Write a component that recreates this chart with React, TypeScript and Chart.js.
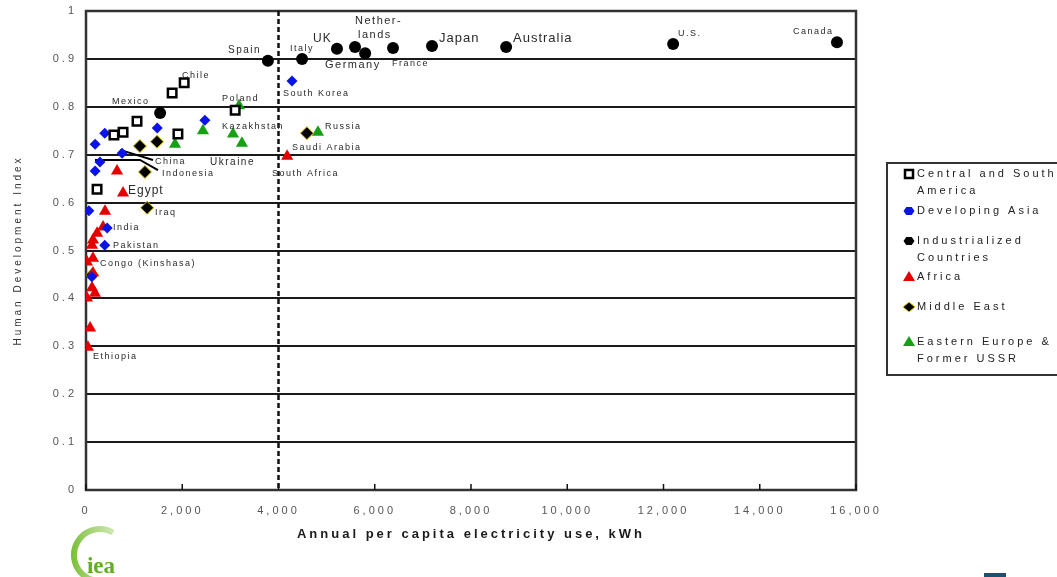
import React, { useEffect, useRef } from 'react';
import { Chart, registerables } from 'chart.js';

Chart.register(...registerables);

// ---------- axes ----------
const xMin = 0;
const xMax = 16000;
const xStep = 2000;
const yMin = 0;
const yMax = 1;
const yStep = 0.1;
const thresholdKWh = 4000;
const xTitle = 'Annual per capita electricity use, kWh';
const yTitle = 'Human Development Index';

// ---------- series: [kWh per capita, HDI] ----------
const centralSouthAmerica: [number, number][] = [
  [1790, 0.829], [2040, 0.85], [1060, 0.77], [770, 0.747], [580, 0.741],
  [1910, 0.743], [3100, 0.793], [230, 0.628],
];
const developingAsia: [number, number][] = [
  [4280, 0.854], [2470, 0.772], [1480, 0.756], [390, 0.745], [190, 0.722],
  [750, 0.703], [290, 0.685], [190, 0.666], [60, 0.583], [440, 0.547],
  [390, 0.511], [120, 0.445],
];
const industrialized: [number, number][] = [
  [3780, 0.896], [4490, 0.9], [5215, 0.921], [5590, 0.925], [5800, 0.912],
  [6380, 0.923], [7190, 0.927], [8730, 0.925], [12200, 0.931], [15605, 0.935],
  [1540, 0.787],
];
const africa: [number, number][] = [
  [4180, 0.697], [645, 0.666], [770, 0.62], [395, 0.582], [355, 0.549],
  [230, 0.536], [145, 0.522], [125, 0.511], [145, 0.484], [20, 0.476],
  [145, 0.453], [125, 0.422], [185, 0.411], [20, 0.401], [85, 0.338],
  [40, 0.298],
];
const middleEast: [number, number][] = [
  [1120, 0.718], [1475, 0.727], [1225, 0.664], [1270, 0.589], [4590, 0.745],
  [125, 0.449],
];
const easternEurope: [number, number][] = [
  [3180, 0.802], [2430, 0.75], [3055, 0.743], [3240, 0.724], [1850, 0.722],
  [4820, 0.747],
];

const seriesNames = [
  'Central and South America',
  'Developing Asia',
  'Industrialized Countries',
  'Africa',
  'Middle East',
  'Eastern Europe & Former USSR',
];
const legendLines = [
  ['Central and South', 'America'],
  ['Developing Asia'],
  ['Industrialized', 'Countries'],
  ['Africa'],
  ['Middle East'],
  ['Eastern Europe &', 'Former USSR'],
];

// ---------- country labels (anchor = left/middle of text, in data units) ----------
const countryNames = [
  'Spain', 'Italy', 'UK', 'Nether-', 'lands', 'Germany', 'France', 'Japan',
  'Australia', 'U.S.', 'Canada', 'Chile', 'Mexico', 'Poland', 'South Korea',
  'Kazakhstan', 'Russia', 'Saudi Arabia', 'China', 'Ukraine', 'Indonesia',
  'South Africa', 'Egypt', 'Iraq', 'India', 'Pakistan', 'Congo (Kinshasa)', 'Ethiopia',
];
const countryLabelX = [
  2950, 4240, 4717, 5590, 5652, 4966, 6359, 7335,
  8873, 12301, 14691, 1995, 540, 2826, 4094,
  2826, 4966, 4281, 1434, 2577, 1579,
  3865, 873, 1434, 561, 561, 291, 145,
];
const countryLabelY = [
  0.919, 0.921, 0.942, 0.979, 0.95, 0.887, 0.891, 0.942,
  0.942, 0.954, 0.958, 0.866, 0.81, 0.818, 0.827,
  0.758, 0.758, 0.714, 0.685, 0.685, 0.66,
  0.66, 0.624, 0.58, 0.547, 0.511, 0.472, 0.278,
];
const chinaLeader: [number, number][] = [[707, 0.71], [1392, 0.689]];
const indonesiaLeader: [number, number][] = [[187, 0.689], [1122, 0.689], [1496, 0.668]];

// label font sizes (style)
const labelSize: Record<string, number> = {
  UK: 12, Japan: 13, Australia: 13, Egypt: 12, 'Nether-': 11, lands: 11,
  Germany: 11, Spain: 10, Ukraine: 10,
};

const FONT = "'Liberation Sans', Arial, sans-serif";

function drawMarker(ctx: CanvasRenderingContext2D, kind: number, x: number, y: number) {
  ctx.save();
  ctx.letterSpacing = '0px';
  if (kind === 0) {
    ctx.fillStyle = '#fff';
    ctx.strokeStyle = '#000';
    ctx.lineWidth = 2.5;
    ctx.fillRect(x - 4, y - 4, 8, 8);
    ctx.strokeRect(x - 4, y - 4, 8, 8);
  } else if (kind === 1 || kind === 2) {
    ctx.fillStyle = kind === 1 ? '#0a14e6' : '#000';
    ctx.beginPath();
    for (let i = 0; i < 6; i++) {
      const a = (Math.PI / 3) * i;
      const px = x + 5.5 * Math.cos(a);
      const py = y + 4.5 * Math.sin(a);
      if (i === 0) ctx.moveTo(px, py);
      else ctx.lineTo(px, py);
    }
    ctx.closePath();
    ctx.fill();
  } else if (kind === 3 || kind === 5) {
    ctx.fillStyle = kind === 3 ? '#e50000' : '#16a016';
    ctx.beginPath();
    ctx.moveTo(x, y - 6);
    ctx.lineTo(x + 6, y + 4);
    ctx.lineTo(x - 6, y + 4);
    ctx.closePath();
    ctx.fill();
  } else if (kind === 4) {
    ctx.fillStyle = '#000';
    ctx.strokeStyle = '#e0c800';
    ctx.lineWidth = 1;
    ctx.beginPath();
    ctx.moveTo(x, y - 5);
    ctx.lineTo(x + 6, y);
    ctx.lineTo(x, y + 5);
    ctx.lineTo(x - 6, y);
    ctx.closePath();
    ctx.fill();
    ctx.stroke();
  }
  ctx.restore();
}

const overlayPlugin = {
  id: 'overlay',
  beforeDraw(chart: any) {
    chart.ctx.letterSpacing = '3px';
  },
  beforeDatasetsDraw(chart: any) {
    const { ctx, chartArea, scales } = chart;
    const x = scales.x;
    const y = scales.y;
    ctx.save();
    ctx.letterSpacing = '0px';
    // frame
    ctx.strokeStyle = '#333';
    ctx.lineWidth = 2.5;
    ctx.strokeRect(chartArea.left, chartArea.top, chartArea.right - chartArea.left, chartArea.bottom - chartArea.top);
    // inner tick marks on x axis
    ctx.strokeStyle = '#111';
    ctx.lineWidth = 1.5;
    x.ticks.forEach((t: any) => {
      const p = x.getPixelForValue(t.value);
      ctx.beginPath();
      ctx.moveTo(p, chartArea.bottom);
      ctx.lineTo(p, chartArea.bottom - 6);
      ctx.stroke();
    });
    // dashed threshold line
    const px = x.getPixelForValue(thresholdKWh);
    ctx.strokeStyle = '#111';
    ctx.lineWidth = 2.5;
    ctx.setLineDash([5, 3]);
    ctx.beginPath();
    ctx.moveTo(px, chartArea.top);
    ctx.lineTo(px, chartArea.bottom);
    ctx.stroke();
    ctx.setLineDash([]);
    // leader lines
    ctx.strokeStyle = '#000';
    ctx.lineWidth = 2;
    [chinaLeader, indonesiaLeader].forEach((pts) => {
      ctx.beginPath();
      pts.forEach(([vx, vy], i) => {
        const a = x.getPixelForValue(vx);
        const b = y.getPixelForValue(vy);
        if (i === 0) ctx.moveTo(a, b);
        else ctx.lineTo(a, b);
      });
      ctx.stroke();
    });
    ctx.restore();
  },
  afterDatasetsDraw(chart: any) {
    const { ctx, scales } = chart;
    const x = scales.x;
    const y = scales.y;
    ctx.save();
    ctx.fillStyle = '#2a2a2a';
    ctx.textAlign = 'left';
    ctx.textBaseline = 'middle';
    countryNames.forEach((name, i) => {
      const size = labelSize[name] || 9;
      ctx.font = `${size}px ${FONT}`;
      ctx.letterSpacing = size >= 12 ? '1px' : '1.5px';
      ctx.fillText(name, x.getPixelForValue(countryLabelX[i]), y.getPixelForValue(countryLabelY[i]));
    });
    ctx.restore();
  },
  afterDraw(chart: any) {
    const { ctx } = chart;
    ctx.save();
    // legend box
    ctx.letterSpacing = '0px';
    ctx.strokeStyle = '#333';
    ctx.lineWidth = 2;
    ctx.strokeRect(887, 163, 200, 212);
    const rows = [174, 211, 241, 277, 307, 342];
    ctx.font = `11px ${FONT}`;
    ctx.fillStyle = '#222';
    ctx.textAlign = 'left';
    ctx.textBaseline = 'middle';
    legendLines.forEach((lines, i) => {
      drawMarker(ctx, i, 909, rows[i]);
      ctx.letterSpacing = '3px';
      lines.forEach((line, j) => {
        ctx.fillText(line, 917, rows[i] + j * 17);
      });
    });
    // IEA logo
    ctx.letterSpacing = '0px';
    const grad = ctx.createLinearGradient(72, 0, 130, 0);
    grad.addColorStop(0, '#7cbf3a');
    grad.addColorStop(1, 'rgba(190,225,150,0.45)');
    ctx.strokeStyle = grad;
    ctx.lineWidth = 6;
    ctx.beginPath();
    ctx.arc(100, 555, 26, (-60 * Math.PI) / 180, (85 * Math.PI) / 180, true);
    ctx.stroke();
    ctx.fillStyle = '#5fae1e';
    ctx.font = `bold 23px 'Liberation Serif', serif`;
    ctx.textAlign = 'center';
    ctx.textBaseline = 'alphabetic';
    ctx.fillText('iea', 101, 573);
    // small mark bottom right
    ctx.fillStyle = '#1f4e6e';
    ctx.fillRect(984, 573, 22, 4);
    ctx.restore();
    ctx.letterSpacing = '0px';
  },
};

export default function App() {
  const canvasRef = useRef<HTMLCanvasElement | null>(null);

  useEffect(() => {
    const canvas = canvasRef.current;
    if (!canvas) return;
    Chart.defaults.font.family = FONT;
    const toPts = (arr: [number, number][]) => arr.map(([a, b]) => ({ x: a, y: b }));
    const chart = new Chart(canvas, {
      type: 'scatter',
      data: {
        datasets: [
          {
            label: seriesNames[0],
            data: toPts(centralSouthAmerica),
            pointStyle: 'rect',
            pointRadius: 6,
            backgroundColor: '#ffffff',
            borderColor: '#000000',
            borderWidth: 2.5,
          },
          {
            label: seriesNames[1],
            data: toPts(developingAsia),
            pointStyle: 'rectRot',
            pointRadius: 5.5,
            backgroundColor: '#0a14e6',
            borderColor: '#0a14e6',
            borderWidth: 0,
          },
          {
            label: seriesNames[2],
            data: toPts(industrialized),
            pointStyle: 'circle',
            pointRadius: 6,
            backgroundColor: '#000000',
            borderColor: '#000000',
            borderWidth: 0,
          },
          {
            label: seriesNames[3],
            data: toPts(africa),
            pointStyle: 'triangle',
            pointRadius: 7,
            backgroundColor: '#e50000',
            borderColor: '#e50000',
            borderWidth: 0,
          },
          {
            label: seriesNames[4],
            data: toPts(middleEast),
            pointStyle: 'rectRot',
            pointRadius: 6.5,
            backgroundColor: '#000000',
            borderColor: '#d9c200',
            borderWidth: 1,
          },
          {
            label: seriesNames[5],
            data: toPts(easternEurope),
            pointStyle: 'triangle',
            pointRadius: 7,
            backgroundColor: '#16a016',
            borderColor: '#16a016',
            borderWidth: 0,
          },
        ],
      },
      options: {
        responsive: false,
        animation: false,
        events: [],
        layout: { padding: { top: 11, right: 201, left: 0, bottom: 0 } },
        plugins: {
          legend: { display: false },
          tooltip: { enabled: false },
        },
        scales: {
          x: {
            type: 'linear',
            min: xMin,
            max: xMax,
            afterFit: (scale: any) => {
              scale.height = 87;
            },
            ticks: {
              stepSize: xStep,
              padding: 14,
              color: '#555',
              font: { size: 11 },
              callback: (v: any) => Number(v).toLocaleString('en-US'),
            },
            grid: { display: false, drawTicks: false, tickLength: 0 },
            border: { display: false },
            title: {
              display: true,
              text: xTitle,
              color: '#1a1a1a',
              font: { size: 13, weight: 'bold' },
              padding: { top: 0, bottom: 35 },
            },
          },
          y: {
            type: 'linear',
            min: yMin,
            max: yMax,
            afterFit: (scale: any) => {
              scale.width = 86;
              scale.paddingTop = 0;
              scale.paddingBottom = 0;
            },
            ticks: {
              stepSize: yStep,
              padding: 9,
              color: '#555',
              font: { size: 11 },
              callback: (v: any) => String(Math.round(Number(v) * 10) / 10),
            },
            grid: { color: '#1a1a1a', lineWidth: 2, drawTicks: false, tickLength: 0 },
            border: { display: false },
            title: {
              display: true,
              text: yTitle,
              color: '#333',
              font: { size: 10 },
              padding: { top: 12, bottom: 0 },
            },
          },
        },
      },
      plugins: [overlayPlugin],
    });
    return () => chart.destroy();
  }, []);

  return (
    <div style={{ position: 'fixed', left: 0, top: 0, width: 1057, height: 577, background: '#fff' }}>
      <canvas ref={canvasRef} width={1057} height={577} style={{ display: 'block' }} />
    </div>
  );
}
